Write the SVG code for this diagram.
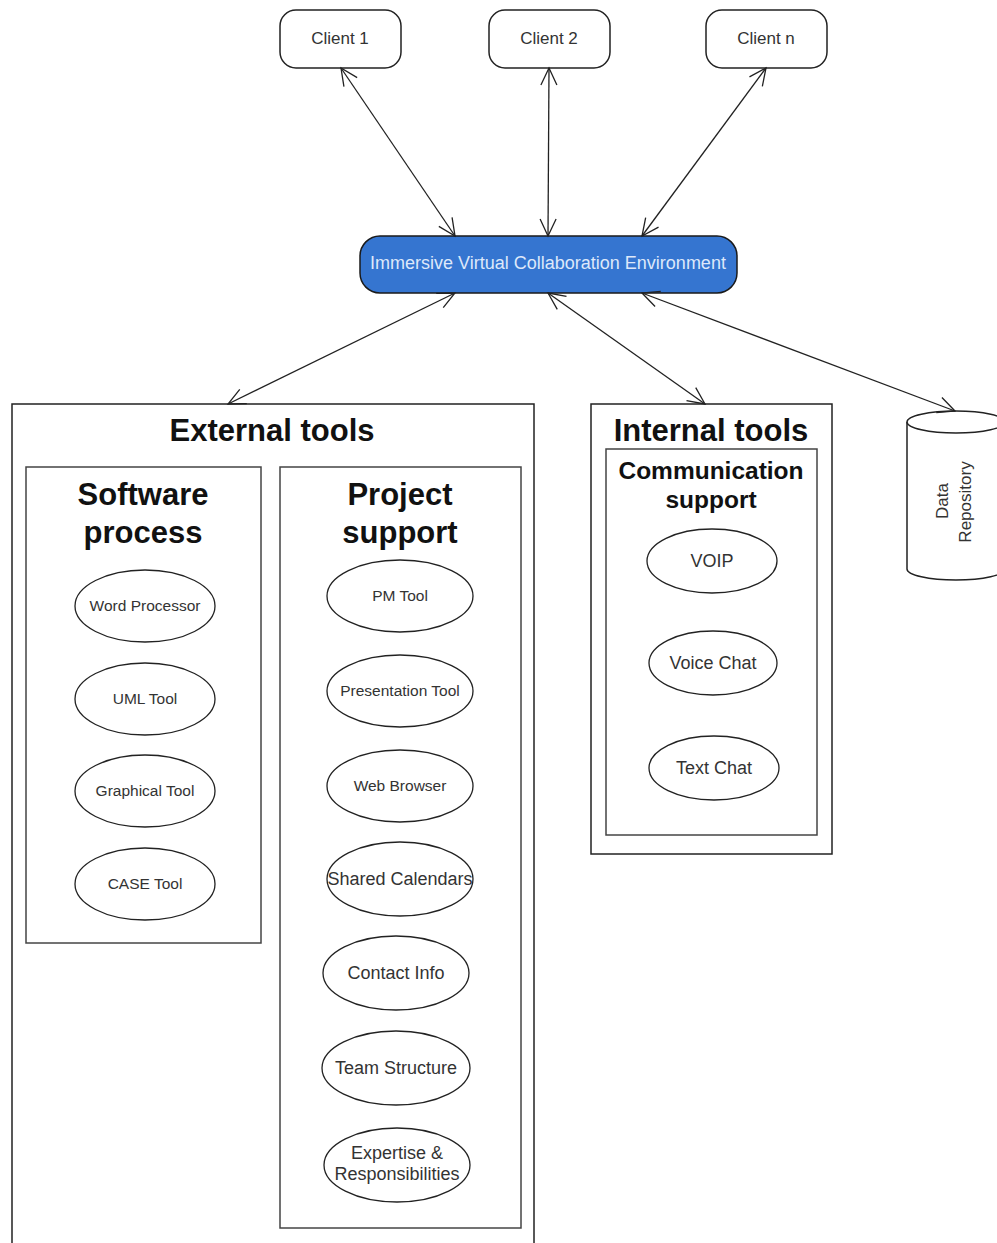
<svg xmlns="http://www.w3.org/2000/svg" width="997" height="1243" viewBox="0 0 997 1243">
  <style>
    .box { fill: #fff; stroke: #222; stroke-width: 1.5; }
    .inner { fill: #fff; stroke: #444; stroke-width: 1.5; }
    .ell { fill: #fff; stroke: #222; stroke-width: 1.3; }
    .lbl { font-family: "Liberation Sans", Arial, sans-serif; font-size: 15.5px; fill: #333; text-anchor: middle; }
    .lbl16 { font-family: "Liberation Sans", Arial, sans-serif; font-size: 18px; fill: #333; text-anchor: middle; }
    .client { font-family: "Liberation Sans", Arial, sans-serif; font-size: 17px; fill: #333; text-anchor: middle; }
    .vert { font-family: "Liberation Sans", Arial, sans-serif; font-size: 17px; fill: #333; text-anchor: middle; }
    .title { font-family: "Liberation Sans", Arial, sans-serif; font-weight: bold; fill: #111; text-anchor: middle; }
    .conn { stroke: #222; stroke-width: 1.3; fill: none; marker-start: url(#arr); marker-end: url(#arr); }
  </style>
  <defs>
    <marker id="arr" viewBox="0 0 20 20" refX="18" refY="10" markerWidth="20" markerHeight="20" markerUnits="userSpaceOnUse" orient="auto-start-reverse">
      <path d="M1,2 L18,10 L1,18" fill="none" stroke="#222" stroke-width="1.3"/>
    </marker>
  </defs>

  <!-- containers -->
  <g id="external-tools">
    <rect class="box" x="12" y="404" width="522" height="850"/>
    <text class="title" x="272" y="441" font-size="31">External tools</text>
  </g>
  <g id="software-process">
    <rect class="inner" x="26" y="467" width="235" height="476"/>
    <text class="title" x="143" y="505" font-size="31">Software</text>
    <text class="title" x="143" y="543" font-size="31">process</text>
  </g>
  <g id="project-support">
    <rect class="inner" x="280" y="467" width="241" height="761"/>
    <text class="title" x="400" y="505" font-size="31">Project</text>
    <text class="title" x="400" y="543" font-size="31">support</text>
  </g>
  <g id="internal-tools">
    <rect class="box" x="591" y="404" width="241" height="450"/>
    <text class="title" x="711" y="441" font-size="31">Internal tools</text>
  </g>
  <g id="communication-support">
    <rect class="inner" x="606" y="449" width="211" height="386"/>
    <text class="title" x="711" y="479" font-size="24.5">Communication</text>
    <text class="title" x="711" y="508" font-size="24.5">support</text>
  </g>

  <!-- clients -->
  <g id="client-1">
    <rect class="box" x="280" y="10" width="121" height="58" rx="16"/>
    <text class="client" x="340" y="44">Client 1</text>
  </g>
  <g id="client-2">
    <rect class="box" x="489" y="10" width="121" height="58" rx="16"/>
    <text class="client" x="549" y="44">Client 2</text>
  </g>
  <g id="client-n">
    <rect class="box" x="706" y="10" width="121" height="58" rx="16"/>
    <text class="client" x="766" y="44">Client n</text>
  </g>

  <!-- central environment -->
  <g id="ivce">
    <rect x="360" y="236" width="377" height="57" rx="20" fill="#3575d0" stroke="#1a1a1a" stroke-width="1.5"/>
    <text x="548" y="269" font-family="Liberation Sans, Arial, sans-serif" font-size="18" fill="#dde8fa" text-anchor="middle">Immersive Virtual Collaboration Environment</text>
  </g>

  <!-- data repository -->
  <g id="data-repository">
    <path class="box" d="M907,422 L907,569 A49,11 0 0 0 1005,569 L1005,422"/>
    <ellipse class="box" cx="956" cy="422" rx="49" ry="11"/>
    <text class="vert" transform="translate(948,501) rotate(-90)">Data</text>
    <text class="vert" transform="translate(971,502) rotate(-90)">Repository</text>
  </g>

  <!-- software process tools -->
  <g id="word-processor"><ellipse class="ell" cx="145" cy="606" rx="70" ry="36"/><text class="lbl" x="145" y="611">Word Processor</text></g>
  <g id="uml-tool"><ellipse class="ell" cx="145" cy="699" rx="70" ry="36"/><text class="lbl" x="145" y="704">UML Tool</text></g>
  <g id="graphical-tool"><ellipse class="ell" cx="145" cy="791" rx="70" ry="36"/><text class="lbl" x="145" y="796">Graphical Tool</text></g>
  <g id="case-tool"><ellipse class="ell" cx="145" cy="884" rx="70" ry="36"/><text class="lbl" x="145" y="889">CASE Tool</text></g>

  <!-- project support tools -->
  <g id="pm-tool"><ellipse class="ell" cx="400" cy="596" rx="73" ry="36"/><text class="lbl" x="400" y="601">PM Tool</text></g>
  <g id="presentation-tool"><ellipse class="ell" cx="400" cy="691" rx="73" ry="36"/><text class="lbl" x="400" y="696">Presentation Tool</text></g>
  <g id="web-browser"><ellipse class="ell" cx="400" cy="786" rx="73" ry="36"/><text class="lbl" x="400" y="791">Web Browser</text></g>
  <g id="shared-calendars"><ellipse class="ell" cx="400" cy="879" rx="73" ry="37"/><text class="lbl16" x="400" y="885">Shared Calendars</text></g>
  <g id="contact-info"><ellipse class="ell" cx="396" cy="973" rx="73" ry="37"/><text class="lbl16" x="396" y="979">Contact Info</text></g>
  <g id="team-structure"><ellipse class="ell" cx="396" cy="1068" rx="74" ry="37"/><text class="lbl16" x="396" y="1074">Team Structure</text></g>
  <g id="expertise"><ellipse class="ell" cx="397" cy="1165" rx="73" ry="37"/><text class="lbl16" x="397" y="1159">Expertise &amp;</text><text class="lbl16" x="397" y="1180">Responsibilities</text></g>

  <!-- communication tools -->
  <g id="voip"><ellipse class="ell" cx="712" cy="561" rx="65" ry="32"/><text class="lbl16" x="712" y="567">VOIP</text></g>
  <g id="voice-chat"><ellipse class="ell" cx="713" cy="663" rx="64" ry="32"/><text class="lbl16" x="713" y="669">Voice Chat</text></g>
  <g id="text-chat"><ellipse class="ell" cx="714" cy="768" rx="65" ry="32"/><text class="lbl16" x="714" y="774">Text Chat</text></g>

  <!-- connectors -->
  <g id="connectors">
    <line class="conn" x1="341" y1="68" x2="455" y2="236"/>
    <line class="conn" x1="549" y1="68" x2="548" y2="236"/>
    <line class="conn" x1="766" y1="68" x2="642" y2="236"/>
    <line class="conn" x1="455" y1="293" x2="228" y2="404"/>
    <line class="conn" x1="548" y1="293" x2="705" y2="404"/>
    <line class="conn" x1="642" y1="293" x2="955" y2="411"/>
  </g>
</svg>
